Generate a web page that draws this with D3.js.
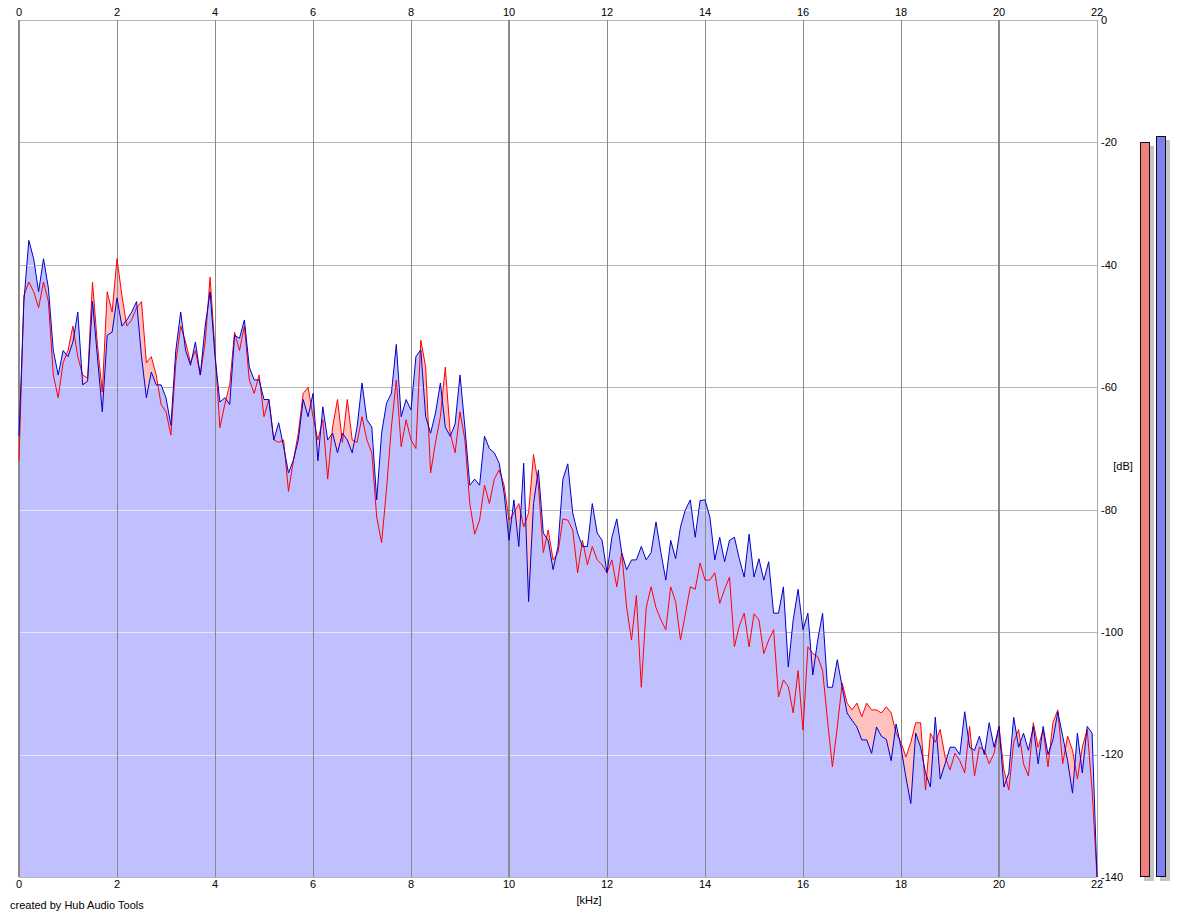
<!DOCTYPE html>
<html lang="en">
<head>
<meta charset="utf-8">
<style>
	body { margin: 0; background: #fff; }
	svg { display: block; font-family: "Liberation Sans", Arial, sans-serif; font-size: 11px; }
	.area-l { fill: #ffc0c0; }
	.area-r { fill: #c0c0ff; }
	.line-l { fill: none; stroke: #ff0000; stroke-width: 1px; }
	.line-r { fill: none; stroke: #0000c8; stroke-width: 1px; }
</style>
<script src="https://d3js.org/d3.v7.min.js"></script>
</head>
<body>
<script type="text/javascript">
var width = 1180;
var height = 917;

// spectrum, one value every 0.1 kHz from 0 to 22 kHz (dB)
var blueDb = [
	-68, -46, -36, -39, -44.4, -39, -43.8, -54, -58, -54,
	-55, -52.6, -47.7, -59.6, -59, -46, -55, -64, -51.5, -51,
	-45.4, -50, -49, -47.7, -46, -55, -61.7, -57.5, -59.6, -59.6,
	-61.7, -66.2, -54, -47.7, -54, -56.4, -52.6, -58, -50, -44.4,
	-55, -62.4, -61.7, -62.8, -51.5, -52, -49, -56.7, -58.8, -58.8,
	-62, -62, -68.6, -65.8, -69.7, -74, -71.9, -68.6, -62, -64.8,
	-61, -72, -63.2, -68.6, -67.5, -70.7, -67.5, -68.6, -70.7, -66.5,
	-59.3, -65.3, -66.5, -78.4, -67.5, -62.6, -61, -53, -64.8, -62,
	-63.7, -55, -53.9, -64.8, -67.5, -64.2, -59.3, -66.5, -68, -66,
	-58, -66.5, -76, -75, -76, -68, -70, -70.7, -72.4, -77.3,
	-85, -78.4, -86, -72.4, -95, -79, -73.5, -83.8, -85, -89.8,
	-86, -75, -72.5, -80.5, -83.8, -86, -86, -79, -83.8, -85,
	-90.3, -84.5, -81.5, -87, -89.8, -88.2, -88.2, -86, -88.2, -87,
	-82, -87, -91.5, -85, -88, -82.8, -80, -78.4, -84.5, -78.5,
	-78.4, -81.2, -88.2, -84.5, -88.5, -85, -84.5, -88, -91, -84,
	-91, -88, -91.5, -88.5, -96.9, -96.9, -92.6, -105.7, -98, -93,
	-99.6, -96.9, -107, -101.3, -96.9, -109, -109, -104.5, -109, -113.2,
	-114.4, -115.5, -117.6, -117.6, -119.8, -115.5, -117, -117.5, -121, -115,
	-118.8, -123.7, -128, -116.5, -118.8, -123, -125.3, -113.9, -124, -121.5,
	-118.8, -118.8, -120, -113, -118.8, -119.3, -117, -120, -114.8, -118.8,
	-115.4, -125.3, -123, -113.9, -118.8, -116.5, -119.3, -115.4, -121.5, -115.4,
	-120, -117.6, -113, -117, -121, -126.3, -116.5, -123, -115.4, -116.5,
	-140
];

var redDb = [
	-72, -45, -42.8, -44.4, -47, -42.8, -46, -58, -61.7, -56,
	-54, -50, -55, -58, -58.5, -42.8, -53, -60.8, -44.4, -47.7,
	-39, -45, -50, -49, -47, -46, -56, -55, -58, -62.8,
	-64, -67.8, -56, -50, -52.6, -56, -54, -58, -52.6, -42,
	-54, -66.6, -62.8, -59.6, -51, -54, -50, -58.8, -61, -58,
	-64.8, -62, -68.6, -69, -68.6, -77, -72, -67.5, -61, -60,
	-64.8, -68.6, -65.3, -75, -66.5, -62, -69, -62, -68.6, -69,
	-64.8, -68.6, -70.7, -81.2, -85.4, -76.7, -66.5, -58.8, -69.7, -65.3,
	-68.6, -70, -52.3, -56.7, -74, -69, -64.8, -56.7, -67.5, -70.7,
	-64, -68.6, -79, -84, -81.7, -76, -79, -75, -73.5, -76,
	-81.7, -80.5, -79, -82.8, -80.5, -71, -76, -87, -83.3, -88.2,
	-87, -81.5, -81.7, -83.3, -90.3, -85, -89, -86, -88.2, -89,
	-90.3, -88.2, -92.6, -87, -95.9, -101.3, -94, -109, -96, -92.6,
	-96, -98, -99.6, -92.6, -95, -101.3, -97, -92.6, -93, -88.7,
	-91.5, -91.5, -90.3, -95.3, -93, -91, -102.4, -99, -96.9, -102.4,
	-97, -98, -103.5, -101.3, -99.6, -110.6, -107.8, -108.9, -113.2, -106.3,
	-116, -102.4, -103.5, -104, -106.3, -114.4, -122, -115.5, -108.3, -111.6,
	-112.7, -111.6, -113.8, -111.6, -112.7, -112.7, -113.2, -112.2, -113.2, -116.5,
	-118, -120.4, -118, -114.8, -114.8, -125.8, -116.5, -118, -115.9, -120.4,
	-122.5, -119.8, -121, -123, -115.4, -123.5, -118.8, -119.3, -121.5, -119.8,
	-115.4, -122.5, -125.8, -118, -115.9, -121.5, -123.5, -114.8, -118.8, -115.9,
	-122, -114.8, -112.7, -121.5, -117, -119.3, -124, -118.8, -115.9, -125.8,
	-140
];

var freqs = d3.range(blueDb.length).map(function(i) { return i / 10; });

var xTicks = [0, 2, 4, 6, 8, 10, 12, 14, 16, 18, 20, 22];
var yTicks = [0, -20, -40, -60, -80, -100, -120, -140];
var meterLevels = [-20, -19]; // left (red), right (blue)

var svg = d3.select("body").append("svg")
	.attr("width", width)
	.attr("height", height);

var x = d3.scaleLinear().domain([0, 22]).range([19, 1097]);
var y = d3.scaleLinear().domain([0, -140]).range([20, 877]);

var area = function(vals) {
	return d3.area()
		.x(function(d, i) { return x(freqs[i]); })
		.y0(y(-140))
		.y1(function(d) { return y(d); })(vals);
};
var line = function(vals) {
	return d3.line()
		.x(function(d, i) { return x(freqs[i]); })
		.y(function(d) { return y(d); })(vals);
};

// clip for the light part of horizontal grid (inside the filled spectrum)
var defs = svg.append("defs");
var clip = defs.append("clipPath").attr("id", "fillclip");
clip.append("path").attr("d", area(redDb));
clip.append("path").attr("d", area(blueDb));

var gGrid = svg.append("g");
var gData = svg.append("g");
var gOver = svg.append("g");

// horizontal grid (behind)
gGrid.selectAll("line.h")
	.data(yTicks)
	.enter().append("line")
	.attr("class", "h")
	.attr("x1", x(0)).attr("x2", x(22))
	.attr("y1", function(d) { return Math.round(y(d)) + 0.5; })
	.attr("y2", function(d) { return Math.round(y(d)) + 0.5; })
	.attr("stroke", "#b4b4b4");

gData.append("path").attr("class", "area-l").attr("d", area(redDb));
gData.append("path").attr("class", "area-r").attr("d", area(blueDb));

gData.append("g").attr("clip-path", "url(#fillclip)")
	.selectAll("line")
	.data(yTicks)
	.enter().append("line")
	.attr("x1", x(0)).attr("x2", x(22))
	.attr("y1", function(d) { return Math.round(y(d)) + 0.5; })
	.attr("y2", function(d) { return Math.round(y(d)) + 0.5; })
	.attr("stroke", "#e4e4fa");

// vertical grid
gData.selectAll("line.v")
	.data(xTicks)
	.enter().append("line")
	.attr("class", "v")
	.attr("x1", function(d) { return d % 10 == 0 ? x(d) : Math.round(x(d)) + 0.5; })
	.attr("x2", function(d) { return d % 10 == 0 ? x(d) : Math.round(x(d)) + 0.5; })
	.attr("y1", y(0)).attr("y2", y(-140))
	.attr("stroke", function(d) { return d == 22 ? "#a8a8a8" : "#8a8a8a"; })
	.attr("stroke-width", function(d) { return d % 10 == 0 ? 2 : 1; });

gOver.append("path").attr("class", "line-l").attr("d", line(redDb));
gOver.append("path").attr("class", "line-r").attr("d", line(blueDb));

// labels
svg.selectAll("text.xt")
	.data(xTicks)
	.enter().append("text")
	.attr("x", function(d) { return x(d); })
	.attr("y", 16)
	.attr("text-anchor", "middle")
	.text(function(d) { return d; });

svg.selectAll("text.xb")
	.data(xTicks)
	.enter().append("text")
	.attr("x", function(d) { return x(d); })
	.attr("y", 888)
	.attr("text-anchor", "middle")
	.text(function(d) { return d; });

svg.selectAll("text.yl")
	.data(yTicks)
	.enter().append("text")
	.attr("x", 1101)
	.attr("y", function(d) { return y(d); })
	.attr("dy", "0.35em")
	.text(function(d) { return d; });

svg.append("text").attr("x", 589).attr("y", 904).attr("text-anchor", "middle").text("[kHz]");
svg.append("text").attr("x", 1123).attr("y", 470).attr("text-anchor", "middle").text("[dB]");
svg.append("text").attr("x", 10).attr("y", 909).text("created by Hub Audio Tools");

// level meters
var meterX = [1140, 1156];
var meterFill = ["#f08080", "#8080f0"];
var meters = svg.selectAll("g.meter")
	.data(meterLevels)
	.enter().append("g");

meters.append("rect")
	.attr("x", function(d, i) { return meterX[i] + 4; })
	.attr("y", function(d) { return Math.round(y(d)) + 4; })
	.attr("width", 10)
	.attr("height", function(d) { return y(-140) - Math.round(y(d)); })
	.attr("fill", "#c4c4c4");

meters.append("rect")
	.attr("x", function(d, i) { return meterX[i] + 0.5; })
	.attr("y", function(d) { return Math.round(y(d)) + 0.5; })
	.attr("width", 9)
	.attr("height", function(d) { return y(-140) - Math.round(y(d)) - 1; })
	.attr("fill", function(d, i) { return meterFill[i]; })
	.attr("stroke", "#101010");
</script>
</body>
</html>
